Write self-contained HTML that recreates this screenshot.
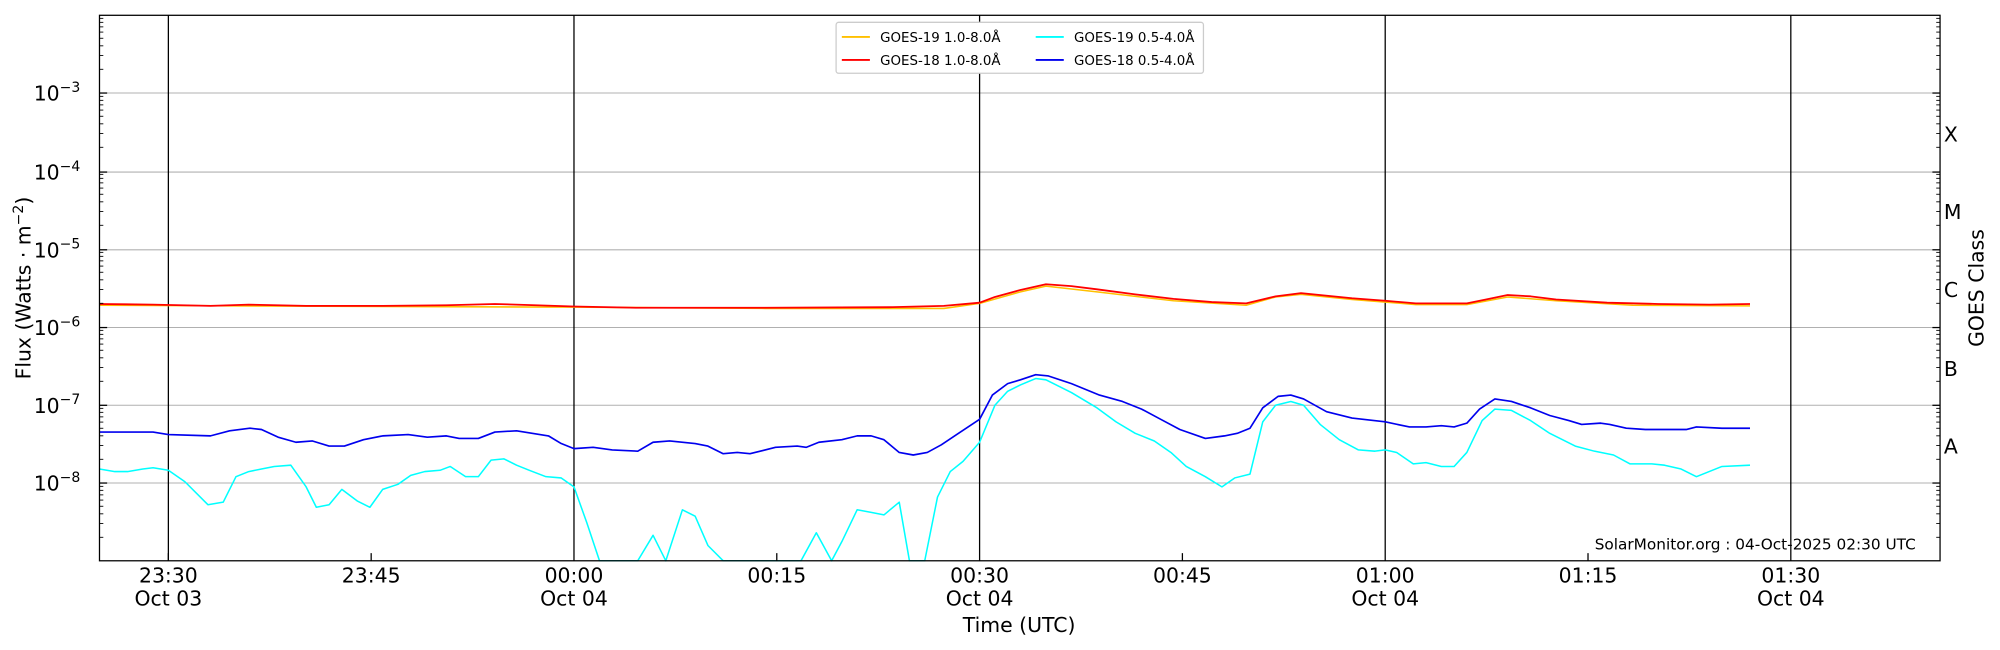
<!DOCTYPE html>
<html><head><meta charset="utf-8"><style>html,body{margin:0;padding:0;background:#fff}svg{display:block}</style></head>
<body>
<svg id="s" width="2000" height="650" viewBox="0 0 1568 510" preserveAspectRatio="none" xmlns="http://www.w3.org/2000/svg" font-family="DejaVu Sans, Liberation Sans, sans-serif">
<rect width="1568" height="510" fill="#fff"/>
<g stroke="#b0b0b0" stroke-width="0.8">
<line x1="78" x2="1521" y1="73" y2="73"/><line x1="78" x2="1521" y1="135" y2="135"/><line x1="78" x2="1521" y1="196" y2="196"/><line x1="78" x2="1521" y1="257" y2="257"/><line x1="78" x2="1521" y1="318" y2="318"/><line x1="78" x2="1521" y1="379" y2="379"/>
</g>
<g stroke="#000" stroke-width="1">
<line x1="132" x2="132" y1="12" y2="440"/><line x1="450" x2="450" y1="12" y2="440"/><line x1="768" x2="768" y1="12" y2="440"/><line x1="1086" x2="1086" y1="12" y2="440"/><line x1="1404" x2="1404" y1="12" y2="440"/>
</g>
<g fill="none" stroke-linejoin="round">
<polyline stroke="#ffc000" stroke-width="1.2" points="78,239.5 300,240.5 450,241 600,242 740,242 768,238 800,229 820,224.5 860,229 920,236 977,239.5 1000,233 1020,231 1060,235 1086,237 1110,239 1150,239 1182,233 1220,236 1280,239.5 1372,240"/>
<polyline stroke="#ff0000" stroke-width="1.4" points="78,238.5 120,239 165,240 195,239 240,240 300,240 350,239.5 388,238.5 420,239.5 450,240.5 500,241.5 600,241.5 700,241 740,240 768,237.5 780,233 800,227.5 820,223 840,224.5 860,227 890,231 920,234.5 950,237 977,238 1000,232.5 1020,230 1060,234 1086,236 1110,238 1150,238 1165,235 1182,231.5 1200,232.5 1220,235 1260,237.5 1300,238.5 1340,239 1372,238.5"/>
<polyline stroke="#00ffff" stroke-width="1.2" points="78,368 90,370 100,370 112,368 120,367 132,369 145,378 163,396 175,394 185,374 195,370 205,368 215,366 228,365 240,382 248,398 258,396 268,384 280,393 290,398 300,384 312,380 322,373 333,370 345,369 353,366 365,374 375,374 385,361 395,360 405,365 415,369 428,374 440,375 450,382 460,410 470,440 500,440 512,420 522,440 535,400 545,405 555,428 567,440 628,440 640,418 652,440 660,425 672,400 683,402 693,404 705,394 713,440 725,440 735,390 745,370 755,362 768,347 780,318 790,307 800,302 812,297 820,298 840,308 860,320 875,331 890,340 905,346 918,355 930,366 945,374 958,382 968,375 980,372 990,331 1000,318 1012,315 1022,318 1035,333 1050,345 1065,353 1078,354 1086,353 1095,355 1108,364 1118,363 1130,366 1140,366 1150,355 1162,330 1172,321 1185,322 1200,330 1215,340 1235,350 1250,354 1265,357 1278,364 1295,364 1305,365 1318,368 1330,374 1350,366 1372,365"/>
<polyline stroke="#0000ee" stroke-width="1.3" points="78,339 120,339 132,341 165,342 180,338 196,336 205,337 218,343 232,347 245,346 258,350 270,350 285,345 300,342 320,341 335,343 350,342 360,344 375,344 388,339 405,338 430,342 440,348 450,352 465,351 480,353 500,354 512,347 525,346 545,348 555,350 567,356 578,355 588,356 608,351 625,350 632,351 642,347 660,345 672,342 683,342 693,345 705,355 716,357 727,355 738,349 750,341 768,329 778,310 790,301 800,298 812,294 822,295 840,301 862,310 880,315 895,321 910,329 925,337 945,344 960,342 970,340 980,336 990,320 1002,311 1012,310 1022,313 1040,323 1060,328 1086,331 1105,335 1118,335 1130,334 1140,335 1150,332 1160,321 1172,313 1185,315 1200,320 1215,326 1230,330 1240,333 1255,332 1262,333 1275,336 1290,337 1305,337 1322,337 1330,335 1350,336 1372,336"/>
</g>
<rect x="78" y="12" width="1443" height="428" fill="none" stroke="#000" stroke-width="1"/>
<g id="minor" stroke="#000" stroke-width="0.7"></g>
<g stroke="#000" stroke-width="1">
<line x1="132" x2="132" y1="440" y2="434"/><line x1="291" x2="291" y1="440" y2="434"/><line x1="609" x2="609" y1="440" y2="434"/><line x1="927" x2="927" y1="440" y2="434"/><line x1="1245" x2="1245" y1="440" y2="434"/>
<line x1="78" x2="84" y1="73" y2="73"/><line x1="78" x2="84" y1="135" y2="135"/><line x1="78" x2="84" y1="196" y2="196"/><line x1="78" x2="84" y1="257" y2="257"/><line x1="78" x2="84" y1="318" y2="318"/><line x1="78" x2="84" y1="379" y2="379"/>
<line x1="1521" x2="1515" y1="73" y2="73"/><line x1="1521" x2="1515" y1="135" y2="135"/><line x1="1521" x2="1515" y1="196" y2="196"/><line x1="1521" x2="1515" y1="257" y2="257"/><line x1="1521" x2="1515" y1="318" y2="318"/><line x1="1521" x2="1515" y1="379" y2="379"/>
</g>
<g font-size="16" fill="#000" text-anchor="end">
<text x="63" y="79">10<tspan dy="-7" font-size="11">−3</tspan></text>
<text x="63" y="141">10<tspan dy="-7" font-size="11">−4</tspan></text>
<text x="63" y="202">10<tspan dy="-7" font-size="11">−5</tspan></text>
<text x="63" y="263">10<tspan dy="-7" font-size="11">−6</tspan></text>
<text x="63" y="324">10<tspan dy="-7" font-size="11">−7</tspan></text>
<text x="63" y="385">10<tspan dy="-7" font-size="11">−8</tspan></text>
</g>
<g font-size="16" fill="#000" text-anchor="middle">
<text x="132" y="457">23:30</text><text x="132" y="475">Oct 03</text>
<text x="291" y="457">23:45</text>
<text x="450" y="457">00:00</text><text x="450" y="475">Oct 04</text>
<text x="609" y="457">00:15</text>
<text x="768" y="457">00:30</text><text x="768" y="475">Oct 04</text>
<text x="927" y="457">00:45</text>
<text x="1086" y="457">01:00</text><text x="1086" y="475">Oct 04</text>
<text x="1245" y="457">01:15</text>
<text x="1404" y="457">01:30</text><text x="1404" y="475">Oct 04</text>
<text x="799" y="496">Time (UTC)</text>
<text transform="translate(24,226) rotate(-90)">Flux (Watts · m<tspan dy="-6" font-size="11">−2</tspan><tspan dy="6">)</tspan></text>
<text transform="translate(1555,226) rotate(-90)">GOES Class</text>
</g>
<g font-size="16" fill="#000">
<text x="1524" y="111">X</text><text x="1524" y="172">M</text><text x="1524" y="233">C</text><text x="1524" y="295">B</text><text x="1524" y="356">A</text>
</g>
<text x="1502" y="431" font-size="12" text-anchor="end" fill="#000">SolarMonitor.org : 04-Oct-2025 02:30 UTC</text>
<rect x="655.5" y="17.5" width="288" height="40" fill="#fff" stroke="#ccc" stroke-width="1" rx="2"/>
<g stroke-width="1.5">
<line x1="660" x2="682" y1="29" y2="29" stroke="#ffc000"/>
<line x1="660" x2="682" y1="47" y2="47" stroke="#ff0000"/>
<line x1="812" x2="834" y1="29" y2="29" stroke="#00ffff"/>
<line x1="812" x2="834" y1="47" y2="47" stroke="#0000ee"/>
</g>
<g font-size="10.5" fill="#000">
<text x="690" y="33">GOES-19 1.0-8.0Å</text>
<text x="690" y="51">GOES-18 1.0-8.0Å</text>
<text x="842" y="33">GOES-19 0.5-4.0Å</text>
<text x="842" y="51">GOES-18 0.5-4.0Å</text>
</g>
</svg>
<script>
(function(){var g=document.getElementById('minor'),ns='http://www.w3.org/2000/svg',d=61.2,s='';
for(var e=0;e<8;e++){var base=440-e*d;for(var k=2;k<=9;k++){var y=base-Math.log10(k)*d;if(y<12)continue;
s+='<line x1="78" x2="81" y1="'+y+'" y2="'+y+'"/><line x1="1521" x2="1518" y1="'+y+'" y2="'+y+'"/>';}}
g.innerHTML=s;})();
</script>
</body></html>
